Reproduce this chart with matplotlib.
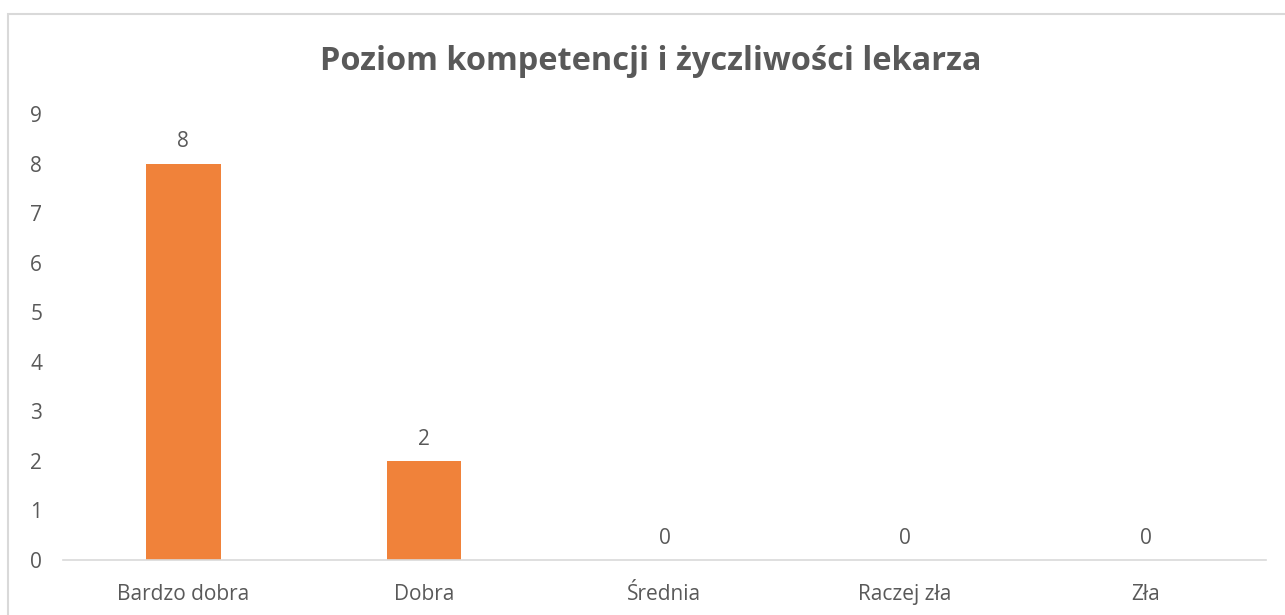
import matplotlib
matplotlib.use("Agg")
import matplotlib.pyplot as plt
from matplotlib.patches import Rectangle

categories = ["Bardzo dobra", "Dobra", "Średnia", "Raczej zła", "Zła"]
values = [8, 2, 0, 0, 0]
yticks = list(range(0, 10))
title = "Poziom kompetencji i życzliwości lekarza"

plt.rcParams['font.family'] = ['Open Sans', 'DejaVu Sans']
gray = '#595959'

fig = plt.figure(figsize=(12.85, 6.15), dpi=100)
# outer chart border (visible top and left only, rest cropped)
fig.patches.append(Rectangle((8/1285, -0.1), 1.2, (1-14/615)+0.1, transform=fig.transFigure,
                             fill=False, edgecolor='#D9D9D9', linewidth=1.5))

ax = fig.add_axes([63/1285, 1-560/615, (1266-63)/1285, (560-114)/615])
x = list(range(len(categories)))
bars = ax.bar(x, values, width=0.31, color='#F0823A', zorder=2)
ax.set_xlim(-0.5, len(categories)-0.5)
ax.set_ylim(0, 9)
ax.set_yticks(yticks)
ax.set_xticks(x)
ax.set_xticklabels(categories)
for s in ['top', 'right', 'left']:
    ax.spines[s].set_visible(False)
ax.spines['bottom'].set_color('#D9D9D9')
ax.spines['bottom'].set_linewidth(1.2)
ax.tick_params(axis='both', length=0, colors=gray, labelsize=15)
ax.tick_params(axis='y', pad=15)
ax.tick_params(axis='x', pad=17)
for xi, v in zip(x, values):
    ax.annotate(str(v), (xi, v), xytext=(0, 8), textcoords='offset points',
                ha='center', va='bottom', color=gray, fontsize=15)

fig.text(651/1285, 1-62/615, title, ha='center', va='center', fontsize=23.4, fontweight='bold', color=gray)

fig.savefig('out.png', dpi=100)
